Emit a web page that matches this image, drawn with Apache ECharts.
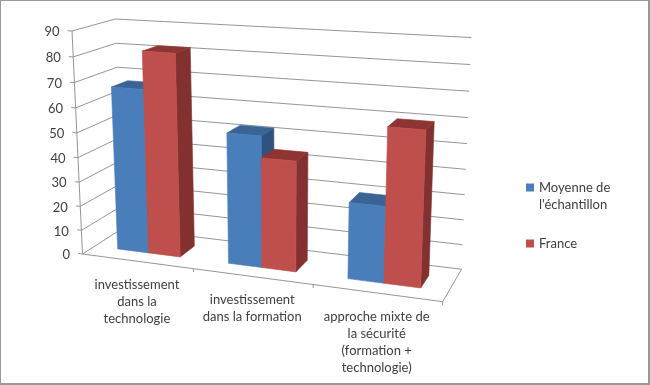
<!DOCTYPE html>
<html>
<head>
<meta charset="utf-8">
<style>html,body{margin:0;padding:0;background:#fff}#c{width:650px;height:385px}</style>
<script src="https://cdn.jsdelivr.net/npm/echarts@6/dist/echarts.min.js"></script>
</head>
<body>
<div id="c"></div>
<script>
const categories = ["investissement\ndans la\ntechnologie", "investissement\ndans la formation", "approche mixte de\nla sécurité\n(formation +\ntechnologie)"];
const seriesNames = ["Moyenne de l'échantillon", "France"];
const moyenne = [67, 52.5, 30];
const france = [82, 44, 60];
const yTicks = [0, 10, 20, 30, 40, 50, 60, 70, 80, 90];

const FONT = 'Lato';
const TEXT = '#404040';
const GRIDLINE = '#969696';
const FRAME = '#999999';
const faces = [
  {front: '#4A7EBB', top: '#3A6495', side: '#2F5380'},
  {front: '#BE4F4C', top: '#8E3432', side: '#823130'}
];
// Projection of the unit box (x along categories, y up, z into the page)
const PX = [311.95, -14.1, 49.11, 82.5];
const PY = [14.8, -224.55, -10.04, 254];
const PW = [-0.109, -0.05, 0.07, 1];
function project(x, y, z) {
  const w = PW[0]*x + PW[1]*y + PW[2]*z + PW[3];
  return [(PX[0]*x + PX[1]*y + PX[2]*z + PX[3]) / w,
          (PY[0]*x + PY[1]*y + PY[2]*z + PY[3]) / w];
}
const BAR_MARGIN = 0.2135, BAR_WIDTH = 0.2865, Z0 = 0.295, Z1 = 0.69;

function unit(params, api, xv, yv) {
  const cs = params.coordSys;
  const p = api.coord([xv, yv]);
  return [(p[0] - cs.x) / cs.width, (cs.y + cs.height - p[1]) / cs.height];
}
function poly(points, color) {
  return {type: 'polygon', shape: {points}, style: {fill: color, stroke: color, lineWidth: 0.6}};
}
function line(points) {
  return {type: 'polyline', shape: {points}, style: {stroke: GRIDLINE, lineWidth: 1, fill: null}};
}
function barRenderer(si) {
  return function (params, api) {
    const cs = params.coordSys;
    const band = api.size([1, 0])[0] / cs.width;
    const u = unit(params, api, api.value(0), api.value(1));
    const left = u[0] - band / 2 + band * (BAR_MARGIN + si * BAR_WIDTH);
    const right = left + band * BAR_WIDTH;
    const h = u[1];
    const c = faces[si];
    return {type: 'group', children: [
      poly([project(right,0,Z0), project(right,0,Z1), project(right,h,Z1), project(right,h,Z0)], c.side),
      poly([project(left,h,Z0), project(right,h,Z0), project(right,h,Z1), project(left,h,Z1)], c.top),
      poly([project(left,0,Z0), project(right,0,Z0), project(right,h,Z0), project(left,h,Z0)], c.front)
    ]};
  };
}
function gridRenderer(params, api) {
  const val = api.value(1);
  const h = unit(params, api, 0, val)[1];
  const corner = project(0, h, 0);
  return {type: 'group', children: [
    line([project(-0.013, h, 0), corner, project(0, h, 1), project(1, h, 1)]),
    {type: 'text', style: {
      text: String(val), x: corner[0] - 12.5, y: corner[1] + 1,
      align: 'right', verticalAlign: 'middle',
      font: '13px ' + FONT, fill: TEXT
    }}
  ]};
}
function frameRenderer(params, api) {
  const children = [
    line([project(0,0,0), project(0,1,0)]),
    line([project(0,0,0), project(1,0,0), project(1,0,1)]),
    line([project(1,0,0), project(1,-0.015,0)])
  ];
  return {type: 'group', children};
}
function categoryRenderer(params, api) {
  const x = unit(params, api, api.value(0), 0)[0];
  const kx = api.value(0);
  const band = api.size([1, 0])[0] / params.coordSys.width;
  const p = project(x, 0, 0);
  const tick = project(x + band / 2, 0, 0);
  const tick2 = project(x + band / 2, -0.015, 0);
  const children = [
    {type: 'text', style: {
      text: categories[kx], x: p[0], y: p[1] + 15,
      align: 'center', verticalAlign: 'top', lineHeight: 17,
      font: '13px ' + FONT, fill: TEXT
    }}
  ];
  if (kx < categories.length - 1) children.push(line([tick, tick2]));
  return {type: 'group', children};
}

const chart = echarts.init(document.getElementById('c'), null, {renderer: 'canvas'});
chart.setOption({
  animation: false,
  backgroundColor: '#ffffff',
  grid: {left: 100, top: 50, width: 300, height: 200},
  xAxis: {type: 'category', data: categories, show: false},
  yAxis: {type: 'value', min: 0, max: 90, interval: 10, show: false},
  legend: {
    data: seriesNames,
    orient: 'vertical', left: 521, top: 157, itemWidth: 8, itemHeight: 8, itemGap: 22,
    icon: 'rect',
    selectedMode: false,
    textStyle: {fontFamily: FONT, fontSize: 13, color: TEXT, lineHeight: 17},
    formatter: n => n === seriesNames[0] ? "\nMoyenne de\nl'échantillon" : n
  },
  graphic: [
    {type: 'rect', silent: true, shape: {x: 0, y: 0, width: 650, height: 1}, style: {fill: FRAME}},
    {type: 'rect', silent: true, shape: {x: 0, y: 0, width: 1, height: 385}, style: {fill: FRAME}},
    {type: 'rect', silent: true, shape: {x: 648, y: 0, width: 2, height: 385}, style: {fill: FRAME}},
    {type: 'rect', silent: true, shape: {x: 0, y: 383, width: 650, height: 2}, style: {fill: FRAME}}
  ],
  series: [
    {type: 'custom', name: 'grille', silent: true, renderItem: gridRenderer, z: 1,
     data: yTicks.map(v => [0, v])},
    {type: 'custom', name: 'cadre', silent: true, renderItem: frameRenderer, z: 1, data: [[0, 0]]},
    {type: 'custom', name: 'categories', silent: true, renderItem: categoryRenderer, z: 1,
     data: categories.map((c, i) => [i, 0])},
    {type: 'custom', name: seriesNames[0], renderItem: barRenderer(0), z: 2,
     itemStyle: {color: faces[0].front}, data: moyenne.map((v, i) => [i, v])},
    {type: 'custom', name: seriesNames[1], renderItem: barRenderer(1), z: 3,
     itemStyle: {color: faces[1].front}, data: france.map((v, i) => [i, v])}
  ]
});
</script>
</body>
</html>
